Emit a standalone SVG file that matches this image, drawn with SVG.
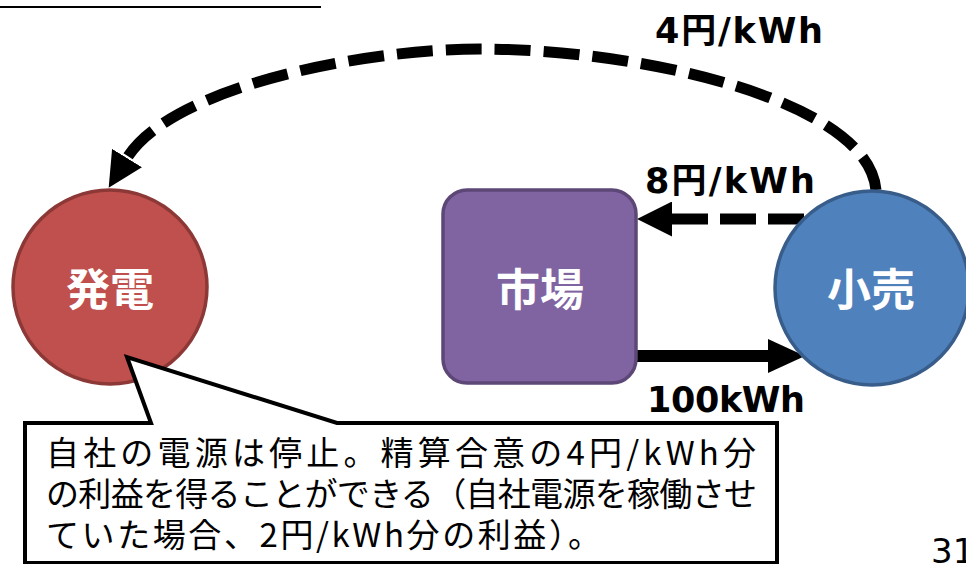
<svg xmlns="http://www.w3.org/2000/svg" width="966" height="564" viewBox="0 0 966 564">
<style>
.node-label{font-family:"Noto Sans CJK JP","Noto Sans CJK SC",sans-serif;font-weight:bold;font-size:44px;fill:#ffffff;text-anchor:middle}
.edge-label{font-family:"DejaVu Sans","Noto Sans CJK JP",sans-serif;font-weight:bold;font-size:35px;fill:#000000}
.callout-text{font-family:"Noto Sans CJK JP","Noto Sans CJK SC",sans-serif;font-size:33px;fill:#000000}
.dash{fill:none;stroke:#000000;stroke-width:11;stroke-linecap:butt}
</style>
<defs>
<marker id="ah" markerUnits="userSpaceOnUse" markerWidth="35" markerHeight="35" viewBox="0 0 35 35" refX="0" refY="17.5" orient="auto">
<path d="M0,0 L35,17.5 L0,35 Z" fill="#000000"/>
</marker>
<marker id="ah2" markerUnits="userSpaceOnUse" markerWidth="37" markerHeight="34" viewBox="0 0 37 34" refX="0" refY="17" orient="auto">
<path d="M0,0 L37,17 L0,34 Z" fill="#000000"/>
</marker>
</defs>
<rect width="966" height="564" fill="#ffffff"/>
<line x1="0" y1="7" x2="321" y2="7" stroke="#000000" stroke-width="2"/>

<g id="connectors">
<path id="edge-4yen" class="dash" d="M876,190 C868,100 640,49 480,49 C360,49 170,88 127,158" stroke-dasharray="36 13" marker-end="url(#ah)"/>
<path id="edge-8yen" class="dash" d="M804,219 L672,219" stroke-dasharray="36 12" marker-end="url(#ah)"/>
<path id="edge-100kwh" d="M636,356 L768,356" stroke="#000000" stroke-width="12" fill="none" marker-end="url(#ah2)"/>
<text class="edge-label" x="655" y="43" textLength="168" lengthAdjust="spacing">4円/kWh</text>
<text class="edge-label" x="645" y="193" textLength="170" lengthAdjust="spacing">8円/kWh</text>
<text class="edge-label" x="647" y="412" textLength="158" lengthAdjust="spacing">100kWh</text>
</g>

<g id="node-hatsuden">
<circle cx="110" cy="287" r="97" fill="#C0504D" stroke="#8C3836" stroke-width="3.5"/>
<text class="node-label" x="110" y="306">発電</text>
</g>

<g id="node-shijou">
<rect x="443" y="190" width="193" height="193" rx="24" ry="24" fill="#8064A2" stroke="#5C4776" stroke-width="3.5"/>
<text class="node-label" x="540" y="306">市場</text>
</g>

<g id="node-kouri">
<circle cx="872" cy="288" r="97" fill="#4F81BD" stroke="#385D8A" stroke-width="3.5"/>
<text class="node-label" x="871" y="306">小売</text>
</g>

<g id="callout">
<path d="M25,423 L151,423 L127,357 L337,423 L777,423 L777,563 L25,563 Z" fill="#ffffff" stroke="#000000" stroke-width="4" stroke-linejoin="miter"/>
<text class="callout-text" x="46" y="465" textLength="710" lengthAdjust="spacing">自社の電源は停止。精算合意の4円/kWh分</text>
<text class="callout-text" x="46" y="506" textLength="711" lengthAdjust="spacing">の利益を得ることができる（自社電源を稼働させ</text>
<text class="callout-text" x="46" y="547" textLength="555" lengthAdjust="spacing">ていた場合、2円/kWh分の利益）。</text>
</g>

<text x="931" y="563" font-family="DejaVu Sans, sans-serif" font-size="34" fill="#000000">31</text>
</svg>
